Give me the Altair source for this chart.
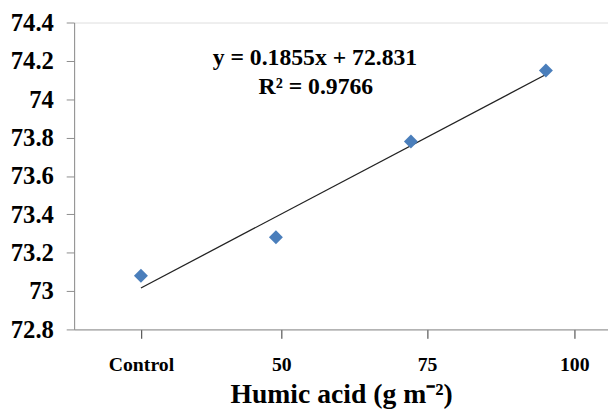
import altair as alt
import pandas as pd

# Data
categories = ["Control", "50", "75", "100"]
x_index = [1, 2, 3, 4]
values = [73.08, 73.28, 73.78, 74.15]

# axis tick placement (as measured on the picture) and labels
tick_values = [1.0, 2.04, 3.12, 4.21]
tick_labels = ["Control", "50", "75", "100"]
y_ticks = [72.8, 73.0, 73.2, 73.4, 73.6, 73.8, 74.0, 74.2, 74.4]

eq_lines = ["y = 0.1855x + 72.831", "R² = 0.9766"]

df = pd.DataFrame({"x": x_index, "y": values, "cat": categories})

label_expr = " : ".join(
    [f"abs(datum.value - {v}) < 0.2 ? '{l}'" for v, l in zip(tick_values, tick_labels)]
) + " : ''"

FONT = "Liberation Serif"

xscale = alt.Scale(domain=[0.505, 4.46], nice=False, zero=False)
yscale = alt.Scale(domain=[72.8, 74.4], nice=False, zero=False)

x_axis = alt.Axis(
    values=tick_values,
    labelExpr=label_expr,
    labelOverlap=False,
    title="Humic acid (g m⁻²)",
    titleFont=FONT,
    titleFontSize=28,
    titleFontWeight="bold",
    titleColor="black",
    titleY=74,
    titleBaseline="alphabetic",
    labelFont=FONT,
    labelFontSize=20,
    labelFontWeight="bold",
    labelColor="black",
    labelBaseline="alphabetic",
    labelPadding=33,
    tickSize=9,
    tickColor="#333333",
    domainColor="#8c8c8c",
    grid=False,
)

y_axis = alt.Axis(
    values=y_ticks,
    tickCount=9,
    format=".1~f",
    labelOverlap=False,
    labelFlush=False,
    title=None,
    labelFont=FONT,
    labelFontSize=25,
    labelFontWeight="bold",
    labelColor="black",
    labelPadding=13,
    tickSize=8,
    tickColor="#8c8c8c",
    domainColor="#8c8c8c",
    grid=False,
)

base = alt.Chart(df).encode(
    x=alt.X("x:Q", scale=xscale, axis=x_axis),
    y=alt.Y("y:Q", scale=yscale, axis=y_axis),
)

trend = base.transform_regression("x", "y").mark_line(
    color="#222222", strokeWidth=1.3
)

points = base.mark_point(
    shape="diamond", filled=True, size=200, color="#4a7ebb", opacity=1
)

eq1 = alt.Chart(pd.DataFrame({"t": [eq_lines[0]]})).mark_text(
    font=FONT, fontSize=24, fontWeight="bold", color="black",
    align="center", baseline="alphabetic"
).encode(text="t:N", x=alt.value(244), y=alt.value(43))

eq2 = alt.Chart(pd.DataFrame({"t": [eq_lines[1]]})).mark_text(
    font=FONT, fontSize=24, fontWeight="bold", color="black",
    align="center", baseline="alphabetic"
).encode(text="t:N", x=alt.value(245), y=alt.value(72))

chart = alt.layer(trend, points, eq1, eq2).properties(
    width=541,
    height=311,
    autosize=alt.AutoSizeParams(type="none"),
    padding={"left": 67, "top": 12, "right": 0, "bottom": 83},
).configure_view(stroke=None).configure(background="white")

chart.save("out.html", embed_options={"renderer": "svg", "actions": False})
